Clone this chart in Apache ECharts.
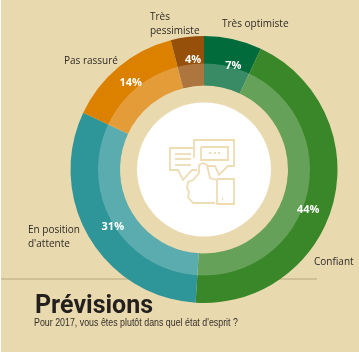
<!DOCTYPE html>
<html>
<head>
<meta charset="utf-8">
<style>
  html, body { margin: 0; padding: 0; background: #fff; }
  #chart { width: 359px; height: 354px; }
</style>
<script src="https://cdn.jsdelivr.net/npm/echarts@6/dist/echarts.min.js"></script>
</head>
<body>
<div id="chart"></div>
<script>
const categories = ['Très optimiste', 'Confiant', "En position\nd'attente", 'Pas rassuré', 'Très\npessimiste'];
const shares = [7, 44, 31, 14, 4];
const sliceColors = ['#026b3c', '#3a8729', '#2e9599', '#dc8000', '#96500a'];
const titleText = 'Prévisions';
const subtitleText = "Pour 2017, vous êtes plutôt dans quel état d'esprit ?";

const beige = '#e9d9ae';
const iconColor = '#eedcb4';
const center = [204, 169.5];

// where each category name sits, same order as categories
const namePositions = [[222, 24], [314, 262], [28, 237], [64, 61], [150, 24]];
// the percentages are not quite on the mid angle in the original
const pctOffsets = [[5, 5], [-4, 13], [5, 0], [-2, -1], [3, 1]];

const pieData = categories.map((name, i) => ({ name, value: shares[i] }));

const chart = echarts.init(document.getElementById('chart'));

function iconLine(points) {
  return {
    type: 'polyline',
    shape: { points },
    style: { fill: 'none', stroke: iconColor, lineWidth: 1.8 },
    z: 20
  };
}

chart.setOption({
  animation: false,
  textStyle: { fontFamily: '"Open Sans", sans-serif' },
  graphic: [
    { type: 'rect', shape: { x: 1, y: 0, width: 358, height: 352 }, style: { fill: beige }, z: -10 },
    { type: 'line', shape: { x1: 1, y1: 279, x2: 317, y2: 279 }, style: { stroke: '#b7a67f', lineWidth: 1 }, z: -5 },
    { type: 'text', x: 35, y: 294, z: 20, style: { text: titleText, fill: '#231f1c', font: 'bold 25px "Roboto", sans-serif' } },
    // the subtitle is squeezed in the original
    { type: 'text', x: 34, y: 318, scaleX: 0.885, z: 20, style: { text: subtitleText, fill: '#33302b', font: '10px "Liberation Sans", sans-serif' } },
    // left bubble
    iconLine([[193, 148], [170, 148], [170, 170], [178, 170], [183, 180], [192, 170], [197, 170]]),
    iconLine([[175, 154], [191, 154]]),
    iconLine([[175, 159], [191, 159]]),
    iconLine([[175, 165], [191, 165]]),
    // right bubble
    iconLine([[194, 158], [194, 140], [234, 140], [234, 166], [228, 166], [219, 175], [215, 166], [208, 166]]),
    iconLine([[201, 147], [228, 147], [228, 160], [201, 160], [201, 147]]),
    iconLine([[209, 153], [211, 153]]),
    iconLine([[214, 153], [216, 153]]),
    iconLine([[218, 153], [220, 153]]),
    // thumb and cuff
    iconLine([[217, 180], [210, 178], [207, 165], [203, 163], [199, 165], [199, 173], [193, 180], [188, 182], [187, 188], [189, 192], [188, 197], [193, 203], [215, 203]]),
    iconLine([[217, 179], [234, 179], [234, 204], [217, 204], [217, 179]]),
    iconLine([[222, 199], [223, 199]])
  ],
  series: [
    {
      // full ring, percentages sit at the middle of it
      type: 'pie',
      center,
      radius: [84, 133.5],
      startAngle: 90,
      clockwise: true,
      silent: true,
      data: pieData,
      itemStyle: { color: (p) => sliceColors[p.dataIndex], borderWidth: 0 },
      label: {
        position: 'inside',
        formatter: '{c}%',
        color: '#fff',
        fontSize: 11,
        fontWeight: 'bold',
        fontFamily: '"Open Sans", sans-serif'
      },
      labelLine: { show: false },
      labelLayout: (p) => ({ dx: pctOffsets[p.dataIndex][0], dy: pctOffsets[p.dataIndex][1] }),
      z: 2
    },
    {
      // lighter inner band, one piece so no seams show
      type: 'pie',
      center,
      radius: [84, 106],
      silent: true,
      data: [{ name: 'bande', value: 1 }],
      itemStyle: { color: 'rgba(255,255,255,0.22)', borderWidth: 0 },
      label: { show: false },
      z: 3
    },
    {
      // white disc under the icon
      type: 'pie',
      center,
      radius: [0, 67],
      silent: true,
      data: [{ name: 'centre', value: 1 }],
      itemStyle: { color: '#fff' },
      label: { show: false },
      z: 3
    },
    {
      // category names only
      type: 'pie',
      center,
      radius: [84, 133.5],
      startAngle: 90,
      silent: true,
      data: pieData,
      itemStyle: { color: 'transparent', borderWidth: 0 },
      label: {
        formatter: '{b}',
        color: '#2e2a25',
        fontSize: 10,
        lineHeight: 14,
        align: 'left',
        overflow: 'none',
        fontFamily: '"Open Sans", sans-serif'
      },
      labelLine: { show: false },
      labelLayout: (p) => ({
        x: namePositions[p.dataIndex][0],
        y: namePositions[p.dataIndex][1],
        align: 'left',
        verticalAlign: 'middle'
      }),
      z: 4
    }
  ]
});
</script>
</body>
</html>
